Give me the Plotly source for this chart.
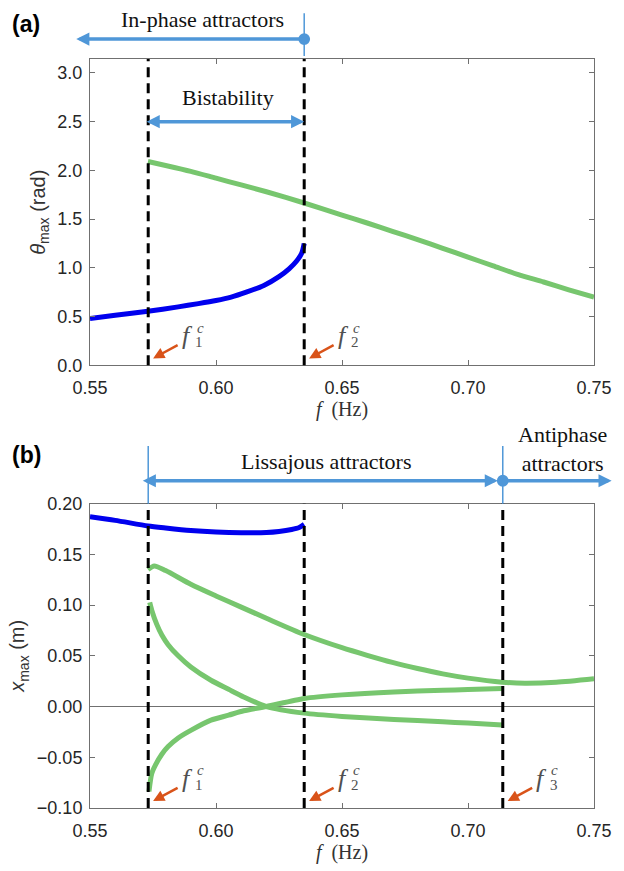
import plotly.graph_objects as go

# ---------------- data ----------------
# (a) theta_max vs f
f_inphase_a = [0.550, 0.560, 0.573, 0.585, 0.593, 0.600, 0.606, 0.612, 0.619, 0.625, 0.629, 0.632, 0.634, 0.635]
theta_inphase = [0.48, 0.513, 0.555, 0.60, 0.633, 0.665, 0.70, 0.75, 0.82, 0.91, 0.99, 1.07, 1.15, 1.25]

f_anti_a = [0.573, 0.58, 0.59, 0.60, 0.61, 0.62, 0.635, 0.65, 0.66, 0.67, 0.68, 0.69, 0.70, 0.71, 0.72, 0.73, 0.74, 0.75]
theta_anti = [2.09, 2.05, 1.99, 1.92, 1.85, 1.78, 1.665, 1.54, 1.46, 1.375, 1.29, 1.20, 1.11, 1.02, 0.93, 0.855, 0.775, 0.70]

# (b) x_max vs f
f_inphase_b = [0.55, 0.56, 0.573, 0.58, 0.59, 0.60, 0.61, 0.62, 0.625, 0.63, 0.633, 0.635]
x_inphase = [0.187, 0.1835, 0.178, 0.176, 0.1735, 0.172, 0.1713, 0.1715, 0.1725, 0.1745, 0.1765, 0.1795]

f_green1 = [0.573, 0.5755, 0.58, 0.59, 0.60, 0.61, 0.62, 0.635, 0.65, 0.66, 0.67, 0.68, 0.69, 0.70, 0.7136, 0.7226, 0.735, 0.75]
x_green1 = [0.135, 0.1386, 0.134, 0.1205, 0.109, 0.098, 0.087, 0.071, 0.058, 0.0505, 0.0435, 0.0375, 0.0322, 0.028, 0.024, 0.023, 0.024, 0.0275]

f_green2 = [0.5737, 0.5745, 0.5765, 0.5785, 0.581, 0.585, 0.59, 0.598, 0.605, 0.611, 0.620, 0.635, 0.65, 0.6706, 0.69, 0.70, 0.7136]
x_green2 = [0.1026, 0.095, 0.081, 0.0705, 0.061, 0.050, 0.039, 0.0259, 0.017, 0.0095, 0.0, -0.0065, -0.0097, -0.0127, -0.015, -0.0163, -0.0183]

f_green3 = [0.5734, 0.5745, 0.576, 0.5785, 0.581, 0.585, 0.59, 0.598, 0.605, 0.611, 0.620, 0.635, 0.65, 0.6706, 0.69, 0.70, 0.7136]
x_green3 = [-0.0837, -0.066, -0.0575, -0.047, -0.0395, -0.031, -0.0235, -0.0134, -0.0085, -0.0042, 0.0, 0.008, 0.0115, 0.0144, 0.016, 0.0168, 0.0177]

f_crit = [0.5731, 0.635, 0.7138]          # f1c, f2c, f3c
crit_labels = ["1", "2", "3"]

x_tickvals = [0.55, 0.60, 0.65, 0.70, 0.75]
y_tickvals_a = [0.0, 0.5, 1.0, 1.5, 2.0, 2.5, 3.0]
y_tickvals_b = [-0.10, -0.05, 0.00, 0.05, 0.10, 0.15, 0.20]

# ---------------- layout geometry ----------------
W, H = 624, 871
ML, MR, MT, MB = 90, 20, 59, 59
PW, PH = W - ML - MR, H - MT - MB
XR = [0.55, 0.75]
YR_A = [0.0, 3.14159]
YR_B = [-0.10, 0.20]

def fx(f):      # data f -> paper x
    return (f - XR[0]) / (XR[1] - XR[0])

def fpx(f):     # data f -> pixel x
    return ML + fx(f) * PW

def pxx(p):     # pixel x -> paper x
    return (p - ML) / PW

def pyy(p):     # pixel y (from top) -> paper y
    return (H - MB - p) / PH

TOP_DOM = [pyy(367), 1.0]
BOT_DOM = [0.0, pyy(506)]

BLUE = "#0000EE"
GREEN = "#77C66E"
LBLUE = "#4F97D8"
ORANGE = "#D95319"
SANS = "Liberation Sans, Arial, sans-serif"
SERIF = "Liberation Serif, Times New Roman, serif"

def curve(x, y, color, xa, ya):
    return go.Scatter(x=x, y=y, mode="lines",
                      line=dict(color=color, width=5, shape="spline", smoothing=0.7),
                      xaxis=xa, yaxis=ya, showlegend=False, hoverinfo="skip")

fig = go.Figure()
fig.add_trace(curve(f_anti_a, theta_anti, GREEN, "x", "y"))
fig.add_trace(curve(f_inphase_a, theta_inphase, BLUE, "x", "y"))
for fx_, xv in [(f_green1, x_green1), (f_green2, x_green2), (f_green3, x_green3)]:
    fig.add_trace(curve(fx_, xv, GREEN, "x2", "y2"))
fig.add_trace(curve(f_inphase_b, x_inphase, BLUE, "x2", "y2"))

axis_common = dict(showline=True, linecolor="#707070", linewidth=1, mirror="ticks",
                   ticks="inside", ticklen=5, tickcolor="#707070", showgrid=False,
                   tickfont=dict(family=SANS, size=18, color="#262626"))

shapes = []
annotations = []

# dashed critical lines
for i, f in enumerate(f_crit):
    if i < 2:
        shapes.append(dict(type="line", xref="x", yref="y domain", x0=f, x1=f, y0=0, y1=1,
                           line=dict(color="black", width=3, dash="10px,6px")))
    shapes.append(dict(type="line", xref="x2", yref="y2 domain", x0=f, x1=f, y0=0, y1=1,
                       line=dict(color="black", width=3, dash="10px,6px")))

# ----- top decorations -----
f1, f2, f3 = f_crit
shapes.append(dict(type="line", xref="paper", yref="paper", x0=fx(f2), x1=fx(f2),
                   y0=pyy(56), y1=pyy(13), line=dict(color=LBLUE, width=1.5)))
r = 6
shapes.append(dict(type="circle", xref="paper", yref="paper", fillcolor=LBLUE, line=dict(color=LBLUE, width=0),
                   x0=pxx(fpx(f2) - r), x1=pxx(fpx(f2) + r), y0=pyy(39 + r), y1=pyy(39 - r)))
annotations.append(dict(xref="paper", yref="paper", x=pxx(76), y=pyy(39), ax=fpx(f2) - 76, ay=0,
                        axref="pixel", ayref="pixel", text="", showarrow=True, arrowhead=2,
                        arrowsize=0.75, arrowwidth=3.5, arrowcolor=LBLUE, standoff=0))
annotations.append(dict(xref="paper", yref="paper", x=pxx(205), y=pyy(19), text="In-phase attractors",
                        showarrow=False, font=dict(family=SERIF, size=22, color="#111"),
                        xanchor="center", yanchor="middle"))
# bistability double arrow
annotations.append(dict(xref="paper", yref="paper", x=fx(f2), y=pyy(122), ax=-(fpx(f2) - fpx(f1)), ay=0,
                        text="", showarrow=True, arrowhead=2, startarrowhead=2, arrowside="end+start",
                        arrowsize=0.75, startarrowsize=0.75, arrowwidth=3.5, arrowcolor=LBLUE,
                        standoff=0, startstandoff=0))
annotations.append(dict(xref="paper", yref="paper", x=pxx(231), y=pyy(98), text="Bistability",
                        showarrow=False, font=dict(family=SERIF, size=22, color="#111"),
                        xanchor="center", yanchor="middle"))

# ----- bottom decorations -----
for f in (f1, f3):
    shapes.append(dict(type="line", xref="paper", yref="paper", x0=fx(f), x1=fx(f),
                       y0=pyy(506), y1=pyy(448), line=dict(color=LBLUE, width=1.5)))
shapes.append(dict(type="circle", xref="paper", yref="paper", fillcolor=LBLUE, line=dict(color=LBLUE, width=0),
                   x0=pxx(fpx(f3) - r), x1=pxx(fpx(f3) + r), y0=pyy(483 + r), y1=pyy(483 - r)))
annotations.append(dict(xref="paper", yref="paper", x=pxx(fpx(f3) - 5), y=pyy(483),
                        ax=-(fpx(f3) - 5 - fpx(f1)), ay=0,
                        text="", showarrow=True, arrowhead=2, startarrowhead=2, arrowside="end+start",
                        arrowsize=0.75, startarrowsize=0.75, arrowwidth=3.5, arrowcolor=LBLUE,
                        standoff=0, startstandoff=0))
annotations.append(dict(xref="paper", yref="paper", x=pxx(622), y=pyy(483), ax=-(622 - fpx(f3)), ay=0,
                        text="", showarrow=True, arrowhead=2, arrowsize=0.75, arrowwidth=3.5,
                        arrowcolor=LBLUE, standoff=0))
annotations.append(dict(xref="paper", yref="paper", x=pxx(331), y=pyy(464), text="Lissajous attractors",
                        showarrow=False, font=dict(family=SERIF, size=22, color="#111"),
                        xanchor="center", yanchor="middle"))
annotations.append(dict(xref="paper", yref="paper", x=pxx(572), y=pyy(451), text="Antiphase<br>attractors",
                        showarrow=False, font=dict(family=SERIF, size=22, color="#111"),
                        xanchor="center", yanchor="middle"))

# panel letters
annotations.append(dict(xref="paper", yref="paper", x=pxx(25), y=pyy(24), text="<b>(a)</b>", showarrow=False,
                        font=dict(family=SANS, size=23, color="black"), xanchor="center", yanchor="middle"))
annotations.append(dict(xref="paper", yref="paper", x=pxx(25), y=pyy(457), text="<b>(b)</b>", showarrow=False,
                        font=dict(family=SANS, size=23, color="black"), xanchor="center", yanchor="middle"))

# critical frequency labels with small orange arrows
def crit_label(f, idx, bottom_px):
    x0 = fpx(f)
    head = (x0 + 5, bottom_px - 7)
    tail = (x0 + 31, bottom_px - 21)
    annotations.append(dict(xref="paper", yref="paper", x=pxx(head[0]), y=pyy(head[1]),
                            ax=tail[0] - head[0], ay=tail[1] - head[1], text="", showarrow=True,
                            arrowhead=2, arrowsize=0.9, arrowwidth=2.5, arrowcolor=ORANGE, standoff=0))
    annotations.append(dict(xref="paper", yref="paper", x=pxx(x0 + 40), y=pyy(bottom_px - 30),
                            text="<i>f</i>", showarrow=False,
                            font=dict(family=SERIF, size=26, color="#505050"),
                            xanchor="center", yanchor="middle"))
    annotations.append(dict(xref="paper", yref="paper", x=pxx(x0 + 53), y=pyy(bottom_px - 38),
                            text="<i>c</i>", showarrow=False,
                            font=dict(family=SERIF, size=15, color="#505050"),
                            xanchor="center", yanchor="middle"))
    annotations.append(dict(xref="paper", yref="paper", x=pxx(x0 + 52), y=pyy(bottom_px - 23),
                            text=crit_labels[idx], showarrow=False,
                            font=dict(family=SERIF, size=15, color="#505050"),
                            xanchor="center", yanchor="middle"))

crit_label(f1, 0, 367)
crit_label(f2, 1, 367)
crit_label(f1, 0, 812)
crit_label(f2, 1, 812)
crit_label(f3, 2, 812)

xtitle = "<i>f</i>&nbsp;&nbsp;(Hz)"
fig.update_layout(
    width=W, height=H, margin=dict(l=ML, r=MR, t=MT, b=MB),
    plot_bgcolor="white", paper_bgcolor="white",
    xaxis=dict(domain=[0, 1], range=XR, anchor="y", tickvals=x_tickvals, tickformat=".2f",
               ticklabelstandoff=6,
               title=dict(text=xtitle, font=dict(family=SERIF, size=20, color="#333"), standoff=4),
               **axis_common),
    yaxis=dict(domain=TOP_DOM, range=YR_A, anchor="x", tickvals=y_tickvals_a, tickformat=".1f",
               zeroline=False, ticklabelstandoff=3,
               title=dict(text="<i>θ</i><sub>max</sub> (rad)", font=dict(family=SANS, size=20, color="#333"),
                          standoff=6),
               **axis_common),
    xaxis2=dict(domain=[0, 1], range=XR, anchor="y2", tickvals=x_tickvals, tickformat=".2f",
                ticklabelstandoff=6,
                title=dict(text=xtitle, font=dict(family=SERIF, size=20, color="#333"), standoff=4),
                **axis_common),
    yaxis2=dict(domain=BOT_DOM, range=YR_B, anchor="x2", tickvals=y_tickvals_b, tickformat=".2f",
                zeroline=True, zerolinecolor="#707070", zerolinewidth=1, ticklabelstandoff=3,
                title=dict(text="<i>x</i><sub>max</sub> (m)", font=dict(family=SANS, size=20, color="#333"),
                           standoff=6),
                **axis_common),
    shapes=shapes, annotations=annotations,
)

fig.write_html("out.html")
